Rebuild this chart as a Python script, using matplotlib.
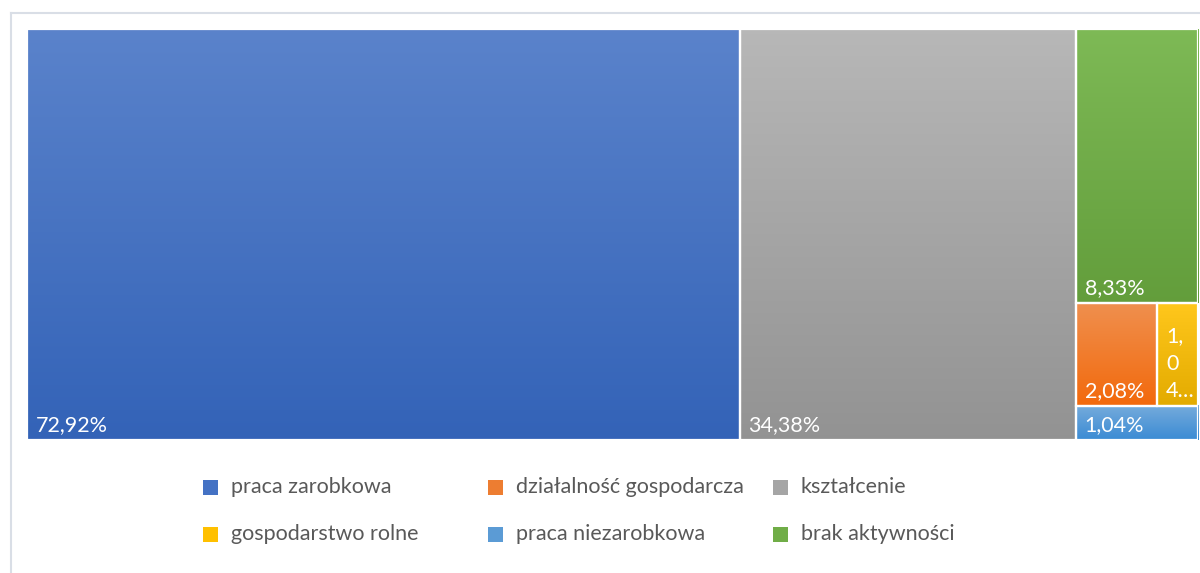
import colorsys
import numpy as np
import matplotlib.pyplot as plt
from matplotlib.patches import Rectangle
from matplotlib.colors import to_rgb
from matplotlib.lines import Line2D

# treemap data (share of respondents, %)
categories = ['praca zarobkowa', 'działalność gospodarcza', 'kształcenie',
              'gospodarstwo rolne', 'praca niezarobkowa', 'brak aktywności']
values = [72.92, 2.08, 34.38, 1.04, 1.04, 8.33]
colors = ['#4472C4', '#ED7D31', '#A5A5A5', '#FFC000', '#5B9BD5', '#70AD47']

# layout as Excel drew it: columns -> rows -> tiles (indexes into categories)
layout = [[[0]], [[2]], [[5], [1, 3], [4]]]

plt.rcParams['font.family'] = ['Lato', 'DejaVu Sans']


def lum(c, f, sat=1.0):
    h, l, s = colorsys.rgb_to_hls(*to_rgb(c))
    return np.array(colorsys.hls_to_rgb(h, min(1, l * f), min(1, s * sat)))


def gradient_tile(ax, x0, y0, w, h, color):
    top, bot = lum(color, 1.11), lum(color, 0.89, 1.08)
    t = np.linspace(0, 1, 64)[:, None, None]
    img = top * (1 - t) + bot * t
    ax.imshow(img, extent=(x0, x0 + w, y0 + h, y0), aspect='auto',
              interpolation='bilinear', zorder=1)
    ax.add_patch(Rectangle((x0, y0), w, h, fill=False, edgecolor='white',
                           linewidth=1.6, zorder=2))


def fmt(v):
    return f"{v:.2f}%".replace('.', ',')


fig = plt.figure(figsize=(12, 5.73), dpi=100)
ax = fig.add_axes([27 / 1200, 1 - 440 / 573, 1171 / 1200, 411 / 573])
total = sum(values)
ax.set_xlim(0, total)
ax.set_ylim(1, 0)
ax.axis('off')

x = 0.0
for col in layout:
    col_sum = sum(values[i] for row in col for i in row)
    y = 0.0
    for row in col:
        row_sum = sum(values[i] for i in row)
        h = row_sum / col_sum
        xx = x
        for i in row:
            w = col_sum * values[i] / row_sum
            gradient_tile(ax, xx, y, w, h, colors[i])
            label = fmt(values[i])
            if w < total * 0.05:
                # too narrow: Excel wraps the label char by char
                label = "\n".join([label[:2], label[2], label[3] + "…"])
            ax.text(xx + total * 0.0075, y + h - 0.012, label, color='white',
                    fontsize=15.5, ha='left', va='bottom', zorder=3,
                    linespacing=1.45)
            xx += w
        y += h
    x += col_sum

# outer chart frame (cropped on right and bottom)
frame_c = '#D9DEE6'
fig.add_artist(Line2D([11 / 1200, 1], [1 - 13 / 573] * 2, color=frame_c, lw=1.5))
fig.add_artist(Line2D([11 / 1200] * 2, [0, 1 - 13 / 573], color=frame_c, lw=1.5))

# legend placed by hand: rows of three, same column pitch as the original
for k in range(len(categories)):
    cx = (203 + 285 * (k % 3)) / 1200
    cy = 1 - (487 + 47 * (k // 3)) / 573
    sq_w, sq_h = 15 / 1200, 15 / 573
    fig.add_artist(Rectangle((cx, cy - sq_h / 2), sq_w, sq_h,
                             facecolor=colors[k], edgecolor='none',
                             transform=fig.transFigure))
    fig.text(cx + 28 / 1200, cy, categories[k], fontsize=15.5, color='#595959',
             ha='left', va='center')

fig.savefig('out.png', dpi=100)
